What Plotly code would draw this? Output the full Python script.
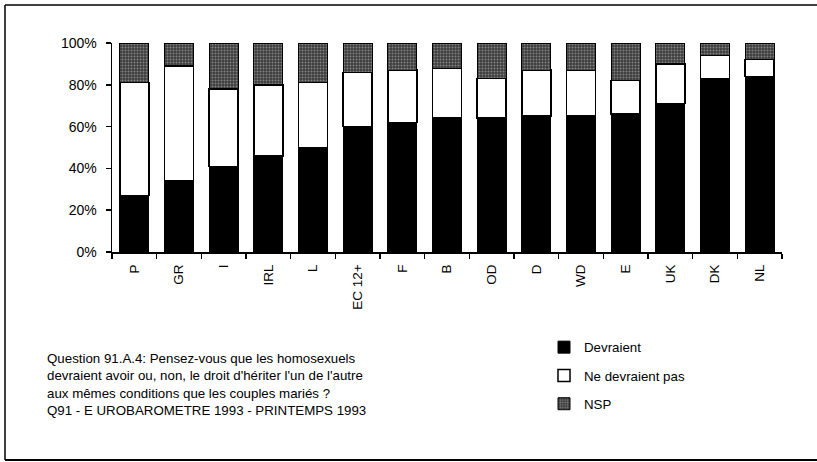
import plotly.graph_objects as go

categories = ["P", "GR", "I", "IRL", "L", "EC 12+", "F", "B", "OD", "D", "WD", "E", "UK", "DK", "NL"]
devraient = [27, 34, 41, 46, 50, 60, 62, 64, 64, 65, 65, 66, 71, 83, 84]
ne_devraient_pas = [54, 55, 37, 34, 31, 26, 25, 24, 19, 22, 22, 16, 19, 11, 8]
nsp = [19, 11, 22, 20, 19, 14, 13, 12, 17, 13, 13, 18, 10, 6, 8]
y_ticks = [0, 20, 40, 60, 80, 100]
y_tick_labels = ["0%", "20%", "40%", "60%", "80%", "100%"]

FONT = "Liberation Sans, Arial, sans-serif"
W, H = 817, 462
L, R, T, B = 112, 35, 43, 210
PW, PH = W - L - R, H - T - B

def px_x(px):
    return (px - L) / PW

def px_y(py):
    return (H - B - py) / PH

fig = go.Figure()
fig.add_trace(go.Bar(
    x=categories, y=devraient, name="Devraient", legendgroup="a",
    marker=dict(color="#000000", line=dict(color="#000000", width=1)),
))
fig.add_trace(go.Bar(
    x=categories, y=ne_devraient_pas, name="Ne devraient pas", legendgroup="b",
    marker=dict(color="#ffffff", line=dict(color="#000000", width=1.5)),
))
fig.add_trace(go.Bar(
    x=categories, y=nsp, name="NSP", legendgroup="c",
    marker=dict(color="#5a5a5a", line=dict(color="#000000", width=1),
                pattern=dict(shape=".", fgcolor="#c8c8c8", bgcolor="#3c3c3c",
                             size=3, solidity=0.35)),
))

fig.update_layout(
    barmode="stack",
    bargap=0.35,
    width=W, height=H,
    margin=dict(l=L, r=R, t=T, b=B, pad=0, autoexpand=False),
    paper_bgcolor="#ffffff",
    plot_bgcolor="#ffffff",
    font=dict(family=FONT, color="#000000", size=13),
    showlegend=True,
    legend=dict(
        xref="paper", yref="paper",
        x=px_x(544), y=px_y(332), xanchor="left", yanchor="top",
        traceorder="grouped", tracegroupgap=8,
        font=dict(family=FONT, size=13.3, color="#000000"),
        bgcolor="rgba(0,0,0,0)",
    ),
    xaxis=dict(
        type="category", categoryorder="array", categoryarray=categories,
        showline=True, linecolor="#000000", linewidth=2,
        ticks="outside", tickson="boundaries", ticklen=5, tickwidth=1.5,
        tickcolor="#000000", tickangle=-90, automargin=False,
        ticklabelstandoff=5,
        tickfont=dict(family=FONT, size=13.5, color="#000000"),
        showgrid=False, zeroline=False, fixedrange=True,
    ),
    yaxis=dict(
        range=[0, 100], tickvals=y_ticks, ticktext=y_tick_labels,
        showline=True, linecolor="#000000", linewidth=1.5,
        ticks="outside", ticklen=5, tickwidth=1.5, tickcolor="#000000",
        ticklabelstandoff=6, automargin=False,
        tickfont=dict(family=FONT, size=14, color="#000000"),
        showgrid=False, zeroline=False, fixedrange=True,
    ),
    shapes=[
        dict(type="line", xref="paper", yref="paper",
             x0=px_x(5), x1=px_x(5), y0=px_y(5), y1=px_y(460),
             line=dict(color="#000000", width=1.5)),
        dict(type="line", xref="paper", yref="paper",
             x0=px_x(5), x1=px_x(840), y0=px_y(5), y1=px_y(5),
             line=dict(color="#000000", width=1.5)),
        dict(type="line", xref="paper", yref="paper",
             x0=px_x(5), x1=px_x(840), y0=px_y(460), y1=px_y(460),
             line=dict(color="#000000", width=2)),
    ],
    annotations=[
        dict(xref="paper", yref="paper", x=px_x(45), y=px_y(349),
             xanchor="left", yanchor="top", align="left", showarrow=False,
             text="Question 91.A.4: Pensez-vous que les homosexuels<br>"
                  "devraient avoir ou, non, le droit d'hériter l'un de l'autre<br>"
                  "aux mêmes conditions que les couples mariés ?",
             font=dict(family=FONT, size=13.3, color="#000000")),
        dict(xref="paper", yref="paper", x=px_x(45), y=px_y(401),
             xanchor="left", yanchor="top", align="left", showarrow=False,
             text="Q91 - E UROBAROMETRE 1993 - PRINTEMPS 1993",
             font=dict(family=FONT, size=13.3, color="#000000")),
    ],
)

fig.write_html(
    "out.html",
    config={"displayModeBar": False, "staticPlot": True},
    post_script="document.body.style.margin='0px';"
                "document.body.style.overflow='hidden';"
                "document.documentElement.style.overflow='hidden';",
)
